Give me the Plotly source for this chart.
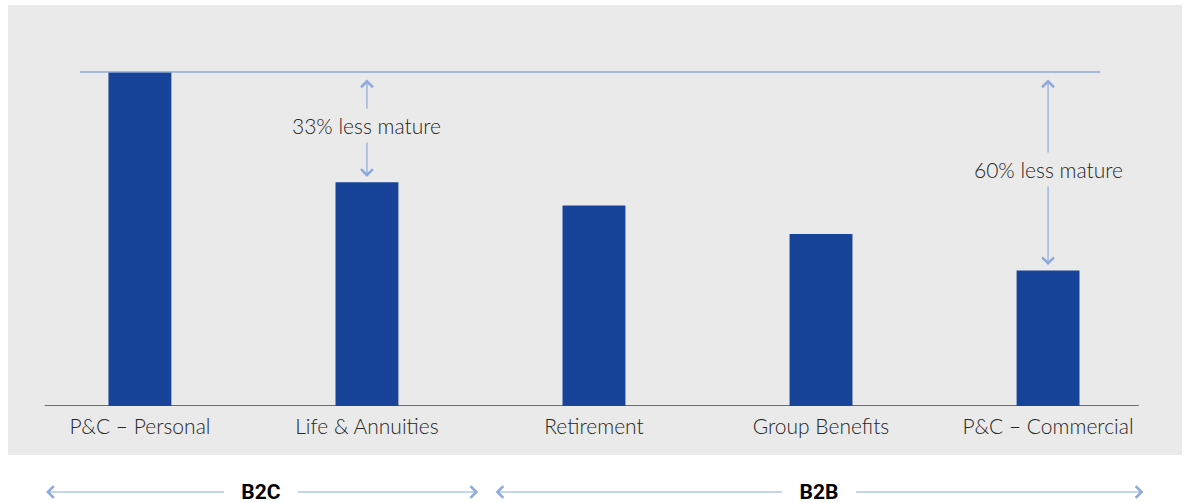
import plotly.graph_objects as go

categories = ["P&C – Personal", "Life & Annuities", "Retirement", "Group Benefits", "P&C – Commercial"]
maturity = [100, 67, 60, 51.5, 40.6]
gap_labels = ["33% less mature", "60% less mature"]
gap_targets = [1, 4]  # category index for each gap annotation
segments = ["B2C", "B2B"]

BAR = "#174499"
LINE = "#8EA9DB"
GRAY = "#EAEAEA"
TXT = "#262626"
FONT = "Lato"

xs = list(range(len(categories)))
fig = go.Figure()
fig.add_trace(go.Bar(x=xs, y=maturity, marker_color=BAR, width=0.277,
                     marker_line_width=0, hoverinfo="skip"))

top = maturity[0]
shapes = [
    # gray extension below plot area
    dict(type="rect", xref="paper", yref="paper", x0=0, x1=1, y0=-0.1222, y1=0,
         fillcolor=GRAY, line_width=0, layer="below"),
    # baseline
    dict(type="line", xref="x", yref="y", x0=-0.42, x1=4.4, y0=0, y1=0,
         line=dict(color="#444444", width=1.6)),
    # top reference line
    dict(type="line", xref="x", yref="y", x0=-0.264, x1=4.23, y0=top, y1=top,
         line=dict(color=LINE, width=1.4)),
]

annotations = []
for lab, idx in zip(gap_labels, gap_targets):
    v = maturity[idx]
    annotations.append(dict(x=idx, y=v + 1.6, xref="x", yref="y",
                            ax=idx, ay=top - 1.8, axref="x", ayref="y",
                            text="", showarrow=True, arrowhead=4, startarrowhead=4,
                            arrowside="end+start", arrowsize=1.9, startarrowsize=1.9,
                            arrowwidth=1.2, arrowcolor=LINE))
    annotations.append(dict(x=idx, y=(top + v) / 2 + 0.6, xref="x", yref="y",
                            xanchor="center", yanchor="middle",
                            text=lab, showarrow=False, bgcolor=GRAY,
                            borderpad=4,
                            font=dict(family=FONT, size=21, color=TXT, weight=300)))

seg_spans = [(-0.42, 1.49), (1.56, 4.42)]
ypos = -0.2145
for lab, (a, b) in zip(segments, seg_spans):
    annotations.append(dict(x=b, y=ypos, xref="x", yref="paper",
                            ax=a, ay=0, axref="x", ayref="pixel",
                            text="", showarrow=True, arrowhead=4, startarrowhead=4,
                            arrowside="end+start", arrowsize=1.9, startarrowsize=1.9,
                            arrowwidth=1.2, arrowcolor=LINE))
    annotations.append(dict(x=(a + b) / 2, y=ypos, xref="x", yref="paper",
                            xanchor="center", yanchor="middle", width=72,
                            text="<b>" + lab + "</b>", showarrow=False, bgcolor="white",
                            borderpad=1, borderwidth=0,
                            font=dict(family="Roboto", size=21, color="#000000")))

fig.update_layout(
    width=1189, height=503,
    margin=dict(l=8, r=7, t=5, b=97),
    paper_bgcolor="white", plot_bgcolor=GRAY,
    showlegend=False,
    shapes=shapes, annotations=annotations,
    xaxis=dict(range=[-0.581, 4.590], tickmode="array", tickvals=xs, ticktext=categories,
               showgrid=False, zeroline=False, showline=False, ticks="outside",
               ticklen=2, tickcolor="rgba(0,0,0,0)",
               tickfont=dict(family=FONT, size=21, color=TXT, weight=300)),
    yaxis=dict(range=[0, 120.06], visible=False, showgrid=False, zeroline=False),
)

fig.write_html("out.html", config={"displayModeBar": False},
               post_script="document.body.style.margin='0';document.body.style.overflow='hidden';")
